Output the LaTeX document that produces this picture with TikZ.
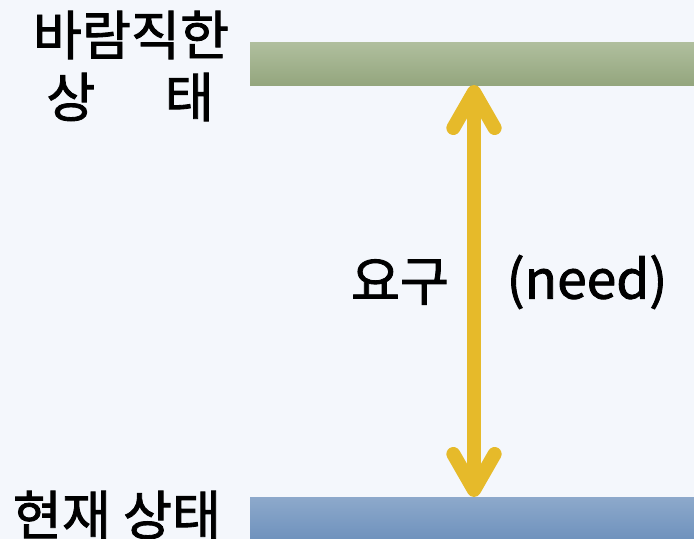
\documentclass[tikz,border=0pt]{standalone}
\usepackage{fontspec}
\setmainfont{Noto Sans CJK KR}
\newfontfamily\labelfont{Noto Sans CJK KR}[FakeBold=1.6]
\usetikzlibrary{arrows.meta}
\definecolor{pagebg}{RGB}{244,247,252}
\definecolor{goaltop}{RGB}{176,191,158}
\definecolor{goalbot}{RGB}{148,166,126}
\definecolor{nowtop}{RGB}{141,169,203}
\definecolor{nowbot}{RGB}{111,146,189}
\definecolor{needline}{RGB}{230,186,42}
\tikzset{
  bar/.style={rectangle, minimum width=444*0.75pt, inner sep=0pt},
  label/.style={font=\labelfont\fontsize{40}{48}\selectfont, inner sep=0pt},
  needarrow/.style={line width=10.5pt, color=needline,
    {Straight Barb[round,length=27pt,width=31pt]}-{Straight Barb[round,length=27pt,width=31pt]}}
}
\begin{document}
\begin{tikzpicture}[x=0.75pt,y=-0.75pt]
\fill[pagebg] (0,0) rectangle (694,539);
\useasboundingbox (0,0) rectangle (694,539);
\node[bar, minimum height=43*0.75pt, top color=goaltop, bottom color=goalbot] (goal) at (472,63.5) {};
\node[bar, minimum height=42*0.75pt, top color=nowtop, bottom color=nowbot] (now) at (472,518) {};
\coordinate (needtop) at (474,85);
\coordinate (needbot) at (474,497);
\draw[needarrow] (needtop) -- (needbot);
\node[label] (goaltxt) at (131,35) {바람직한};
\node[label] (goaltxt2) at (130,97) {상\hspace{1.3em}태};
\node[label] (nowtxt) at (117,515) {현재 상태};
\node[label] (needkr) at (400,282) {요구};
\node[label] (needen) at (587,282) {(need)};
\end{tikzpicture}
\end{document}
